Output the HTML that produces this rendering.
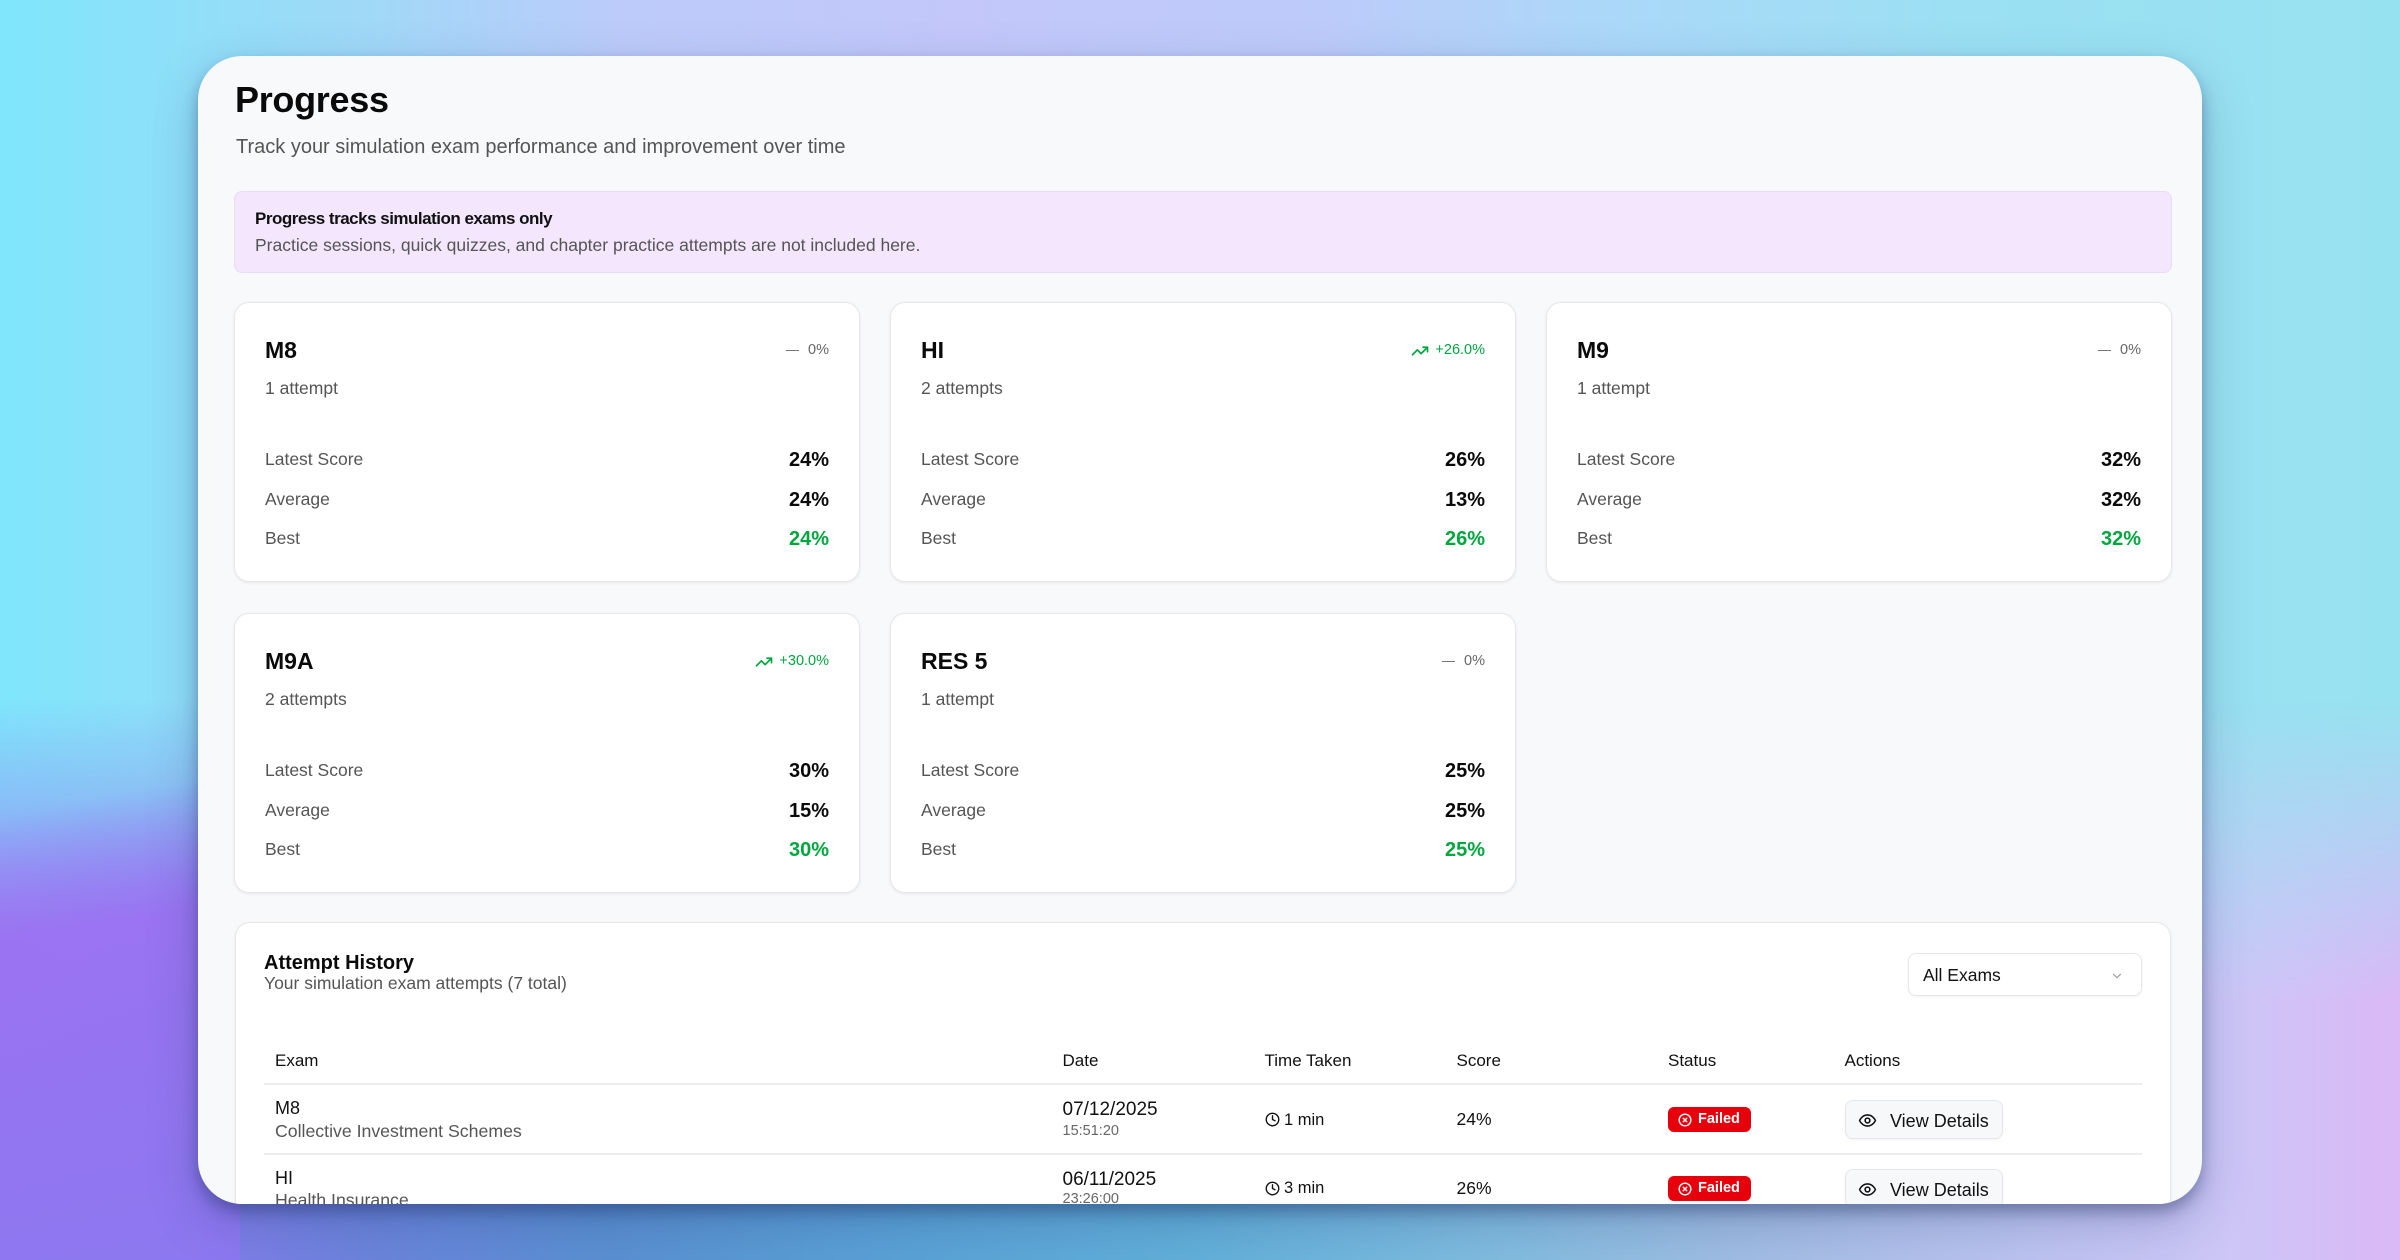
<!DOCTYPE html>
<html>
<head>
<meta charset="utf-8">
<style>
*{margin:0;padding:0;box-sizing:border-box;}
html,body{width:2400px;height:1260px;overflow:hidden;}
body{position:relative;font-family:"Liberation Sans",Arial,sans-serif;color:#0a0a0a;
background:linear-gradient(90deg,#7fe6fb 0%,#9ddaf8 14%,#bccbfa 26%,#c3c7fa 40%,#bdcbfa 55%,#aad9f8 68%,#9be0f3 82%,#97e2f1 100%);}
.bgbot{position:absolute;left:0;top:0;width:2400px;height:1260px;
background:linear-gradient(90deg,#9a72f2 0%,#867bec 7%,#6c84dc 15%,#5a90d2 25%,#5aa3d6 38%,#62b0da 50%,#80bcdf 62%,#a2bde4 73%,#bec4f0 85%,#cdc6f6 93%,#dab8f6 100%);
-webkit-mask-image:linear-gradient(to bottom,rgba(0,0,0,0) 0px,rgba(0,0,0,0) 700px,rgba(0,0,0,1) 1000px);
mask-image:linear-gradient(to bottom,rgba(0,0,0,0) 0px,rgba(0,0,0,0) 700px,rgba(0,0,0,1) 1000px);}
.bgleft{position:absolute;left:0;top:650px;width:240px;height:610px;
background:linear-gradient(170deg,rgba(150,115,242,0) 0%,rgba(150,115,242,0) 25%,rgba(155,114,242,0.95) 45%,rgba(140,120,240,1) 100%);}
.panel{position:absolute;left:198px;top:56px;width:2004px;height:1148px;background:#f8f9fa;border-radius:44px;overflow:hidden;
box-shadow:0 8px 14px rgba(25,40,90,0.35),0 18px 50px rgba(30,50,110,0.25);}
.abs{position:absolute;line-height:1;white-space:nowrap;}
.title{left:37px;top:26px;font-size:36px;font-weight:bold;letter-spacing:-0.3px;}
.sub{left:38px;top:80.5px;font-size:20px;color:#555;}
.banner{position:absolute;left:36px;top:135px;width:1938px;height:82px;background:#f3e6fd;border:1px solid #eadaf8;border-radius:8px;}
.b1{left:20px;top:18px;font-size:17px;font-weight:bold;letter-spacing:-0.5px;color:#111;}
.b2{left:20px;top:45px;font-size:17.5px;color:#555;}
.card{position:absolute;width:626px;height:280px;background:#fff;border:1px solid #e7e7ea;border-radius:15px;box-shadow:0 1px 3px rgba(0,0,0,0.07);}
.ct{left:30px;top:35.5px;font-size:23px;font-weight:bold;}
.ca{left:30px;top:77px;font-size:17.5px;color:#555;}
.chg{position:absolute;right:30px;top:39.5px;height:16px;display:flex;align-items:center;font-size:14.5px;color:#666;line-height:1;}
.chg .dash{width:13px;height:1.6px;background:#777;margin-right:9px;}
.chg.up{color:#00a63e;}
.chg.up svg{margin-right:6px;}
.row{position:absolute;left:30px;right:30px;height:30px;display:flex;justify-content:space-between;align-items:center;line-height:1;}
.row .l{font-size:17.5px;color:#555;}
.row .v{font-size:20px;font-weight:bold;color:#0a0a0a;}
.row .v.g{color:#00a63e;}
.hist{position:absolute;left:37px;top:866px;width:1936px;height:282px;background:#fff;border:1px solid #e7e7ea;border-bottom:none;border-radius:15px 15px 0 0;box-shadow:0 1px 3px rgba(0,0,0,0.07);overflow:hidden;}
.ht{left:28px;top:29.5px;font-size:20px;font-weight:bold;}
.hs{left:28px;top:52px;font-size:17.5px;color:#555;}
.dd{position:absolute;left:1672px;top:30px;width:234px;height:43px;border:1px solid #e5e7eb;border-radius:8px;background:#fff;box-shadow:0 1px 2px rgba(0,0,0,0.05);}
.dd .t{left:14px;top:12.5px;font-size:17.5px;color:#111;}
.dd svg{position:absolute;left:201px;top:15px;}
.th{top:128.5px;font-size:17px;color:#111;}
.line{position:absolute;left:28px;width:1878px;height:2px;background:#ececee;}
.en{font-size:18px;color:#111;}
.es{font-size:17.7px;color:#555;}
.dt{font-size:19px;color:#111;}
.tm{font-size:14.5px;color:#666;}
.tt{font-size:16.5px;color:#111;}
.sc{font-size:17.5px;color:#111;}
.badge{position:absolute;width:83px;height:25px;background:#e7000b;border-radius:6px;}
.badge svg{position:absolute;left:10px;top:5.5px;}
.badge span{position:absolute;left:30px;top:5px;font-size:14.5px;font-weight:bold;color:#fff;line-height:1;}
.btn{position:absolute;width:158px;height:39px;background:#f7f8f9;border:1px solid #e6e7ea;border-radius:8px;box-shadow:0 1px 2px rgba(0,0,0,0.05);}
.btn svg{position:absolute;left:12px;top:10px;}
.btn span{position:absolute;left:44px;top:10.5px;font-size:18px;color:#111;line-height:1;white-space:nowrap;}
.clk{position:absolute;}
</style>
</head>
<body>
<div class="bgbot"></div>
<div class="bgleft"></div>

<div class="panel">
  <div class="abs title">Progress</div>
  <div class="abs sub">Track your simulation exam performance and improvement over time</div>

  <div class="banner">
    <div class="abs b1">Progress tracks simulation exams only</div>
    <div class="abs b2">Practice sessions, quick quizzes, and chapter practice attempts are not included here.</div>
  </div>

  <div class="card" style="left:36px;top:246px;">
    <div class="abs ct">M8</div>
    <div class="chg"><div class="dash"></div>0%</div>
    <div class="abs ca">1 attempt</div>
    <div class="row" style="top:142px;"><span class="l">Latest Score</span><span class="v">24%</span></div>
    <div class="row" style="top:182px;"><span class="l">Average</span><span class="v">24%</span></div>
    <div class="row" style="top:221px;"><span class="l">Best</span><span class="v g">24%</span></div>
  </div>

  <div class="card" style="left:692px;top:246px;">
    <div class="abs ct">HI</div>
    <div class="chg up"><svg width="18" height="18" viewBox="0 0 24 24" fill="none" stroke="#00a63e" stroke-width="2.2" stroke-linecap="round" stroke-linejoin="round"><polyline points="22 7 13.5 15.5 8.5 10.5 2 17"/><polyline points="16 7 22 7 22 13"/></svg>+26.0%</div>
    <div class="abs ca">2 attempts</div>
    <div class="row" style="top:142px;"><span class="l">Latest Score</span><span class="v">26%</span></div>
    <div class="row" style="top:182px;"><span class="l">Average</span><span class="v">13%</span></div>
    <div class="row" style="top:221px;"><span class="l">Best</span><span class="v g">26%</span></div>
  </div>

  <div class="card" style="left:1348px;top:246px;">
    <div class="abs ct">M9</div>
    <div class="chg"><div class="dash"></div>0%</div>
    <div class="abs ca">1 attempt</div>
    <div class="row" style="top:142px;"><span class="l">Latest Score</span><span class="v">32%</span></div>
    <div class="row" style="top:182px;"><span class="l">Average</span><span class="v">32%</span></div>
    <div class="row" style="top:221px;"><span class="l">Best</span><span class="v g">32%</span></div>
  </div>

  <div class="card" style="left:36px;top:557px;">
    <div class="abs ct">M9A</div>
    <div class="chg up"><svg width="18" height="18" viewBox="0 0 24 24" fill="none" stroke="#00a63e" stroke-width="2.2" stroke-linecap="round" stroke-linejoin="round"><polyline points="22 7 13.5 15.5 8.5 10.5 2 17"/><polyline points="16 7 22 7 22 13"/></svg>+30.0%</div>
    <div class="abs ca">2 attempts</div>
    <div class="row" style="top:142px;"><span class="l">Latest Score</span><span class="v">30%</span></div>
    <div class="row" style="top:182px;"><span class="l">Average</span><span class="v">15%</span></div>
    <div class="row" style="top:221px;"><span class="l">Best</span><span class="v g">30%</span></div>
  </div>

  <div class="card" style="left:692px;top:557px;">
    <div class="abs ct">RES 5</div>
    <div class="chg"><div class="dash"></div>0%</div>
    <div class="abs ca">1 attempt</div>
    <div class="row" style="top:142px;"><span class="l">Latest Score</span><span class="v">25%</span></div>
    <div class="row" style="top:182px;"><span class="l">Average</span><span class="v">25%</span></div>
    <div class="row" style="top:221px;"><span class="l">Best</span><span class="v g">25%</span></div>
  </div>

  <div class="hist">
    <div class="abs ht">Attempt History</div>
    <div class="abs hs">Your simulation exam attempts (7 total)</div>
    <div class="dd">
      <div class="abs t">All Exams</div>
      <svg width="14" height="14" viewBox="0 0 24 24" fill="none" stroke="#9a9a9a" stroke-width="2" stroke-linecap="round" stroke-linejoin="round"><polyline points="6 9 12 15 18 9"/></svg>
    </div>

    <div class="abs th" style="left:39px;">Exam</div>
    <div class="abs th" style="left:826.5px;">Date</div>
    <div class="abs th" style="left:1028.5px;">Time Taken</div>
    <div class="abs th" style="left:1220.5px;">Score</div>
    <div class="abs th" style="left:1432px;">Status</div>
    <div class="abs th" style="left:1608.5px;">Actions</div>
    <div class="line" style="top:160px;"></div>

    <div class="abs en" style="left:39px;top:176px;">M8</div>
    <div class="abs es" style="left:39px;top:199.5px;">Collective Investment Schemes</div>
    <div class="abs dt" style="left:826.5px;top:176.5px;">07/12/2025</div>
    <div class="abs tm" style="left:826.5px;top:201px;">15:51:20</div>
    <svg class="clk" style="left:1029px;top:189px;" width="15" height="15" viewBox="0 0 24 24" fill="none" stroke="#111" stroke-width="2.2" stroke-linecap="round" stroke-linejoin="round"><circle cx="12" cy="12" r="10"/><polyline points="12 6 12 12 16 14"/></svg>
    <div class="abs tt" style="left:1048px;top:188.5px;">1 min</div>
    <div class="abs sc" style="left:1220.5px;top:188px;">24%</div>
    <div class="badge" style="left:1432px;top:184px;"><svg width="14" height="14" viewBox="0 0 24 24" fill="none" stroke="#fff" stroke-width="2.4" stroke-linecap="round"><circle cx="12" cy="12" r="10"/><path d="M15 9l-6 6M9 9l6 6"/></svg><span>Failed</span></div>
    <div class="btn" style="left:1609px;top:177px;"><svg width="19" height="19" viewBox="0 0 24 24" fill="none" stroke="#111" stroke-width="2" stroke-linecap="round" stroke-linejoin="round"><path d="M2 12s3-7 10-7 10 7 10 7-3 7-10 7-10-7-10-7Z"/><circle cx="12" cy="12" r="3"/></svg><span>View Details</span></div>
    <div class="line" style="top:230px;"></div>

    <div class="abs en" style="left:39px;top:245.5px;">HI</div>
    <div class="abs es" style="left:39px;top:268.5px;">Health Insurance</div>
    <div class="abs dt" style="left:826.5px;top:246.5px;">06/11/2025</div>
    <div class="abs tm" style="left:826.5px;top:269px;">23:26:00</div>
    <svg class="clk" style="left:1029px;top:258px;" width="15" height="15" viewBox="0 0 24 24" fill="none" stroke="#111" stroke-width="2.2" stroke-linecap="round" stroke-linejoin="round"><circle cx="12" cy="12" r="10"/><polyline points="12 6 12 12 16 14"/></svg>
    <div class="abs tt" style="left:1048px;top:257px;">3 min</div>
    <div class="abs sc" style="left:1220.5px;top:256.5px;">26%</div>
    <div class="badge" style="left:1432px;top:253px;"><svg width="14" height="14" viewBox="0 0 24 24" fill="none" stroke="#fff" stroke-width="2.4" stroke-linecap="round"><circle cx="12" cy="12" r="10"/><path d="M15 9l-6 6M9 9l6 6"/></svg><span>Failed</span></div>
    <div class="btn" style="left:1609px;top:246px;"><svg width="19" height="19" viewBox="0 0 24 24" fill="none" stroke="#111" stroke-width="2" stroke-linecap="round" stroke-linejoin="round"><path d="M2 12s3-7 10-7 10 7 10 7-3 7-10 7-10-7-10-7Z"/><circle cx="12" cy="12" r="3"/></svg><span>View Details</span></div>
  </div>
</div>
</body>
</html>
